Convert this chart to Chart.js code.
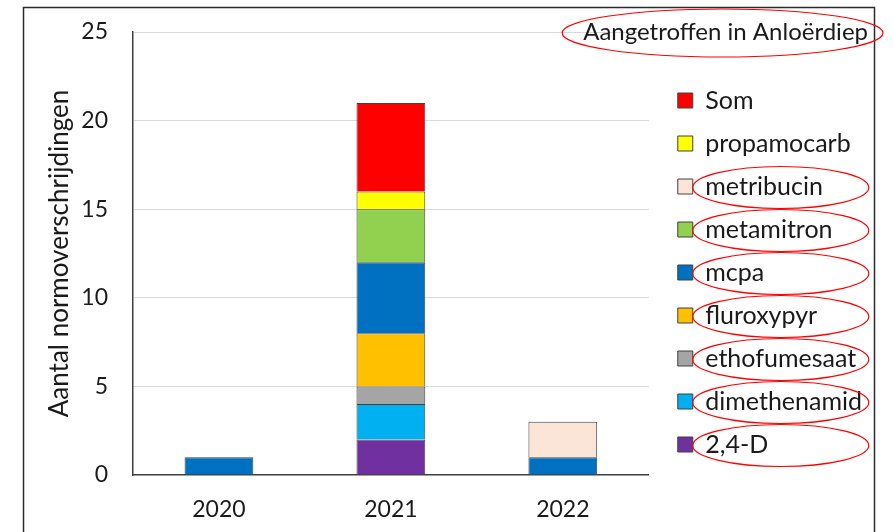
<!DOCTYPE html>
<html>
<head>
<meta charset="utf-8">
<script src="https://cdn.jsdelivr.net/npm/chart.js@4"></script>
<style>
  html, body { margin: 0; padding: 0; background: #fff; }
  #wrap { width: 894px; height: 532px; }
</style>
</head>
<body>
<div id="wrap"><canvas id="normChart"></canvas></div>
<script>
// Categories and tick values
const years = ['2020', '2021', '2022'];
const yTicks = [0, 5, 10, 15, 20, 25];

// One array per substance, bottom of the stack first
const d24D = [null, 2, null];
const dimethenamid = [null, 2, null];
const ethofumesaat = [null, 1, null];
const fluroxypyr = [null, 3, null];
const mcpa = [1, 4, 1];
const metamitron = [null, 3, null];
const metribucin = [null, null, 2];
const propamocarb = [null, 1, null];
const som = [null, 5, null];

// Substances marked with a red circle in the legend
const circled = ['metribucin', 'metamitron', 'mcpa', 'fluroxypyr', 'ethofumesaat', 'dimethenamid', '2,4-D'];
const titleText = 'Aangetroffen in Anloërdiep';

const FONT = 'Lato, "Open Sans", sans-serif';
const TEXT = '#1a1a1a';

function series(label, data, color) {
    return {
        label: label,
        data: data,
        backgroundColor: color,
        borderColor: '#404040',
        borderWidth: 1
    };
}

// Frame, corner title and the red hand-drawn circles
const annotations = {
    id: 'annotations',
    afterLayout(chart) {
        // push the legend a bit further away from the plot
        chart.legend.left += 11;
        chart.legend.right += 11;
    },
    beforeDraw(chart) {
        const ctx = chart.ctx;
        ctx.save();
        ctx.fillStyle = '#fff';
        ctx.fillRect(0, 0, chart.width, chart.height);
        ctx.strokeStyle = '#2b2b2b';
        ctx.lineWidth = 1.5;
        ctx.strokeRect(23.5, 7.5, 851, 600);
        ctx.restore();
    },
    afterDraw(chart) {
        const ctx = chart.ctx;
        ctx.save();
        ctx.font = '24px ' + FONT;
        ctx.fillStyle = TEXT;
        ctx.textAlign = 'right';
        ctx.textBaseline = 'middle';
        ctx.fillText(titleText, 868, 32);
        const w = ctx.measureText(titleText).width;

        ctx.strokeStyle = '#ff0000';
        ctx.lineWidth = 1.2;
        ctx.beginPath();
        ctx.ellipse(868 - w / 2 - 3, 33, w / 2 + 18, 24, 0, 0, Math.PI * 2);
        ctx.stroke();

        const legend = chart.legend;
        legend.legendItems.forEach((item, i) => {
            if (!circled.includes(item.text)) return;
            const hb = legend.legendHitBoxes[i];
            const cx = hb.left + 15 + 88;
            const cy = hb.top + hb.height / 2 + 1;
            ctx.beginPath();
            ctx.ellipse(cx, cy, 88, 21, 0, 0, Math.PI * 2);
            ctx.stroke();
        });
        ctx.restore();
    }
};

const ctx = document.getElementById('normChart').getContext('2d');
const normChart = new Chart(ctx, {
    type: 'bar',
    data: {
        labels: years,
        datasets: [
            series('2,4-D', d24D, '#7030a0'),
            series('dimethenamid', dimethenamid, '#00b0f0'),
            series('ethofumesaat', ethofumesaat, '#a5a5a5'),
            series('fluroxypyr', fluroxypyr, '#ffc000'),
            series('mcpa', mcpa, '#0070c0'),
            series('metamitron', metamitron, '#92d050'),
            series('metribucin', metribucin, '#fbe5d6'),
            series('propamocarb', propamocarb, '#ffff00'),
            series('Som', som, '#ff0000')
        ]
    },
    options: {
        responsive: true,
        maintainAspectRatio: false,
        animation: false,
        layout: {
            padding: { top: 32, left: 0, bottom: 0, right: 33 }
        },
        datasets: {
            bar: {
                categoryPercentage: 1,
                barPercentage: 0.4
            }
        },
        plugins: {
            title: { display: false },
            tooltip: { enabled: false },
            legend: {
                position: 'right',
                align: 'end',
                fullSize: false,
                reverse: true,
                labels: {
                    boxWidth: 15,
                    boxHeight: 15,
                    padding: 18,
                    color: TEXT,
                    font: { family: FONT, size: 25 }
                }
            }
        },
        scales: {
            x: {
                stacked: true,
                grid: { display: false, drawTicks: false },
                border: { display: true, color: '#404040', width: 1.5 },
                ticks: {
                    color: TEXT,
                    padding: 21,
                    font: { family: FONT, size: 23 }
                },
                afterFit(scale) {
                    scale.height = 57;
                    scale.paddingLeft = 0;
                    scale.paddingRight = 0;
                }
            },
            y: {
                stacked: true,
                min: yTicks[0],
                max: yTicks[yTicks.length - 1],
                afterBuildTicks(scale) {
                    scale.ticks = yTicks.map(v => ({ value: v }));
                },
                grid: {
                    drawTicks: false,
                    color: c => (c.tick && c.tick.value === 0 ? 'rgba(0,0,0,0)' : '#d9d9d9'),
                    lineWidth: 1
                },
                border: { display: true, color: '#404040', width: 1.5 },
                ticks: {
                    color: TEXT,
                    padding: 25,
                    font: { family: FONT, size: 23 }
                },
                title: {
                    display: true,
                    text: 'Aantal normoverschrijdingen',
                    color: TEXT,
                    font: { family: FONT, size: 26 },
                    padding: { top: 44, bottom: 0 }
                },
                afterFit(scale) {
                    scale.width = 133;
                    scale.paddingTop = 0;
                    scale.paddingBottom = 0;
                }
            }
        }
    },
    plugins: [annotations]
});
</script>
</body>
</html>
